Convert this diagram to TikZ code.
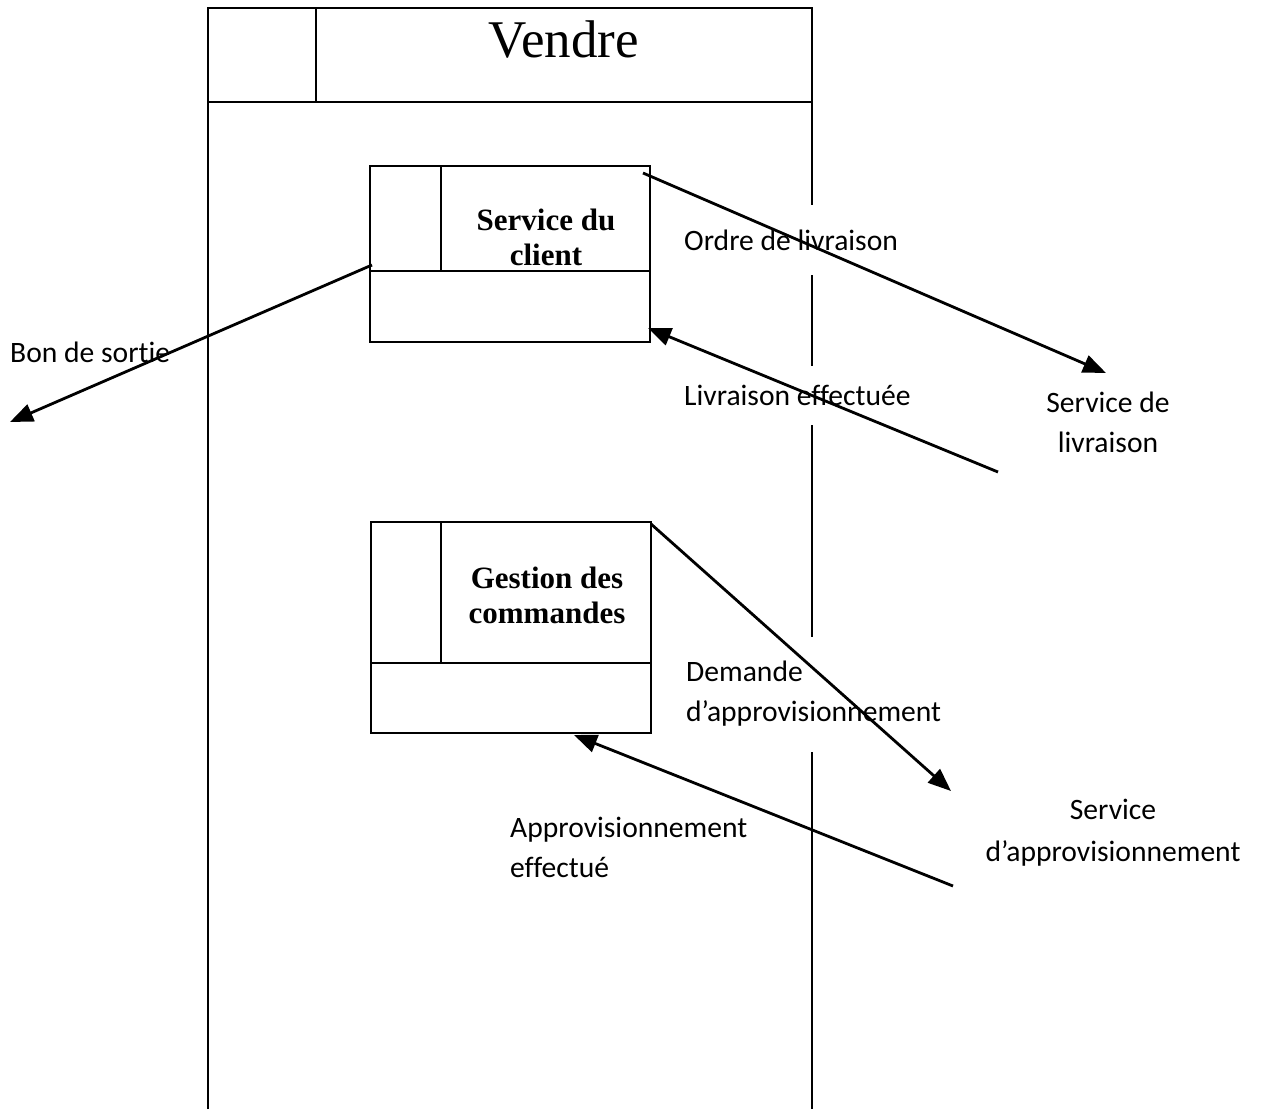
\documentclass[tikz,border=0pt]{standalone}
\usepackage{fontspec}
\setmainfont{Carlito}[Ligatures=NoCommon, RawFeature={-liga;-calt}]
\newfontfamily\headfont{Liberation Serif}
\usetikzlibrary{arrows.meta}

\begin{document}
\begin{tikzpicture}[x=1pt,y=-1pt,
  frame/.style={line width=1.6pt},
  flow/.style={line width=2.8pt,-{Triangle[length=23pt,width=18pt]}},
  lbl/.style={font=\fontsize{29.6}{40}\selectfont, align=left, inner sep=2pt},
  mask/.style={fill=white},
  proc/.style={draw, line width=1.6pt, minimum width=280pt, inner sep=0pt},
  title/.style={font=\headfont\bfseries\fontsize{31}{35}\selectfont, align=center, inner sep=0pt},
  ext/.style={font=\fontsize{29.6}{40}\selectfont, align=center, inner sep=0pt}]

% page
\fill[white] (0,0) rectangle (1261,1109);
\useasboundingbox (0,0) rectangle (1261,1109);

% swimlane "Vendre"
\draw[frame] (208,1109) -- (208,8) -- (812,8) -- (812,1109);
\draw[frame] (208,102) -- (812,102);
\draw[frame] (316,8) -- (316,102);
\node[inner sep=0pt] (lane) at (564,40) {\headfont\fontsize{53}{53}\selectfont Vendre};

% flow labels (white backgrounds interrupt the lane border)
\node[lbl, mask, anchor=west, minimum height=70pt] (l1) at (682,240) {Ordre de livraison};
\node[lbl, mask, anchor=west, minimum height=59pt] (l2) at (682,395) {Livraison effectuée};
\node[lbl, anchor=west] (l3) at (8,352) {Bon de sort\kern0pt ie};
\node[lbl, mask, anchor=west, minimum height=115pt] (l4) at (684,694) {Demande\\d’approvisionnement};
\node[lbl, anchor=west] (l5) at (508,847) {Approvisionnement\\effectué};

% process boxes
\node[proc, minimum height=176pt] (sc) at (510,254) {};
\draw[frame] (370,271) -- (650,271);
\draw[frame] (441,166) -- (441,271);
\node[title] (sct) at (546,237) {Service du\\client};

\node[proc, minimum height=211pt] (gc) at (511,627.5) {};
\draw[frame] (371,663) -- (651,663);
\draw[frame] (441,522) -- (441,663);
\node[title] (gct) at (547,595) {Gestion des\\commandes};

% external services
\node[ext] (sl) at (1108,422) {Service de\\livraison};
\node[ext, font=\fontsize{29.6}{42}\selectfont] (sa) at (1113,833) {Service\\d’approvisionnement};

% connector end points
\coordinate (o1) at (643,173);  \coordinate (o2) at (1106,373);
\coordinate (e1) at (998,472);  \coordinate (e2) at (648,328);
\coordinate (b1) at (372,265);  \coordinate (b2) at (10,422);
\coordinate (d1) at (651,524);  \coordinate (d2) at (951,791);
\coordinate (a1) at (953,886);  \coordinate (a2) at (574,735);

% flows
\draw[flow] (o1) -- (o2);
\draw[flow] (e1) -- (e2);
\draw[flow] (b1) -- (b2);
\draw[flow] (d1) -- (d2);
\draw[flow] (a1) -- (a2);
\end{tikzpicture}
\end{document}
